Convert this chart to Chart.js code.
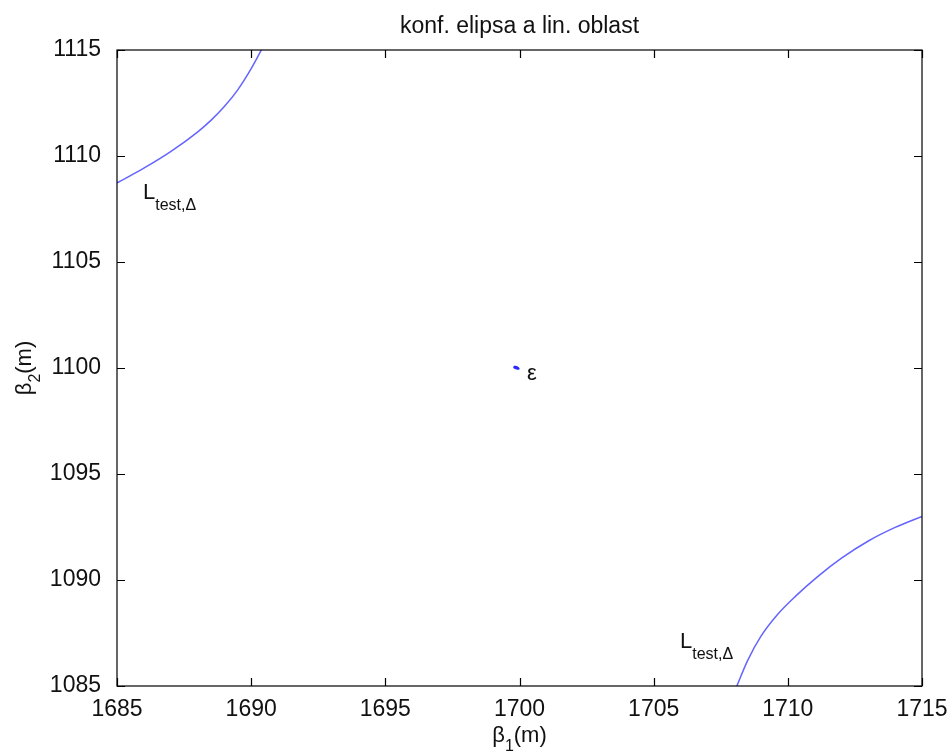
<!DOCTYPE html>
<html>
<head>
<meta charset="utf-8">
<title>konf. elipsa a lin. oblast</title>
<script src="https://cdn.jsdelivr.net/npm/chart.js@4.4.0/dist/chart.umd.min.js"></script>
<style>
  html, body { margin: 0; padding: 0; background: #fff; }
  #wrap { width: 952px; height: 754px; }
</style>
</head>
<body>
<div id="wrap"><canvas id="myChart" width="952" height="754"></canvas></div>
<script>
// upper-left branch of the linearity region
let lowerX = [1685.0, 1686.0, 1687.0, 1688.0, 1688.5, 1689.0, 1689.5, 1690.0, 1690.4];
let lowerY = [1108.73, 1109.43, 1110.21, 1111.13, 1111.68, 1112.33, 1113.12, 1114.12, 1115.05];

// lower-right branch of the linearity region
let upperX = [1708.1, 1708.5, 1709.0, 1709.6, 1710.3, 1711.1, 1712.0, 1713.0, 1714.0, 1715.0];
let upperY = [1085.0, 1086.2, 1087.35, 1088.35, 1089.25, 1090.15, 1091.03, 1091.84, 1092.48, 1093.0];

// confidence ellipse (very small, around the estimate)
let ellX = [1699.78, 1699.85, 1699.93, 1699.97, 1699.93, 1699.85, 1699.78];
let ellY = [1100.05, 1100.06, 1100.02, 1099.97, 1099.96, 1099.99, 1100.05];

let xTicks = [1685, 1690, 1695, 1700, 1705, 1710, 1715];
let yTicks = [1085, 1090, 1095, 1100, 1105, 1110, 1115];

// text labels: [x, y, main text, subscript]
let labelX = [1685.97, 1705.98, 1700.28];
let labelY = [1107.97, 1086.79, 1099.43];
let labelMain = ['L', 'L', 'ε'];
let labelSub = ['test,Δ', 'test,Δ', ''];

let titleText = 'konf. elipsa a lin. oblast';

function toPoints(xs, ys) {
  let pts = [];
  for (let i = 0; i < xs.length; i++) {
    pts.push({ x: xs[i], y: ys[i] });
  }
  return pts;
}

const FONT = '"Liberation Sans", Arial, sans-serif';

// draws text with a lowered, smaller subscript part
function drawSubText(ctx, x, y, main, sub, size) {
  ctx.font = size + 'px ' + FONT;
  ctx.fillText(main, x, y);
  let w = ctx.measureText(main).width;
  if (sub) {
    ctx.font = Math.round(size * 0.72) + 'px ' + FONT;
    ctx.fillText(sub, x + w, y + 11);
  }
}

const framePlugin = {
  id: 'frame',
  afterDraw(chart) {
    let ctx = chart.ctx;
    let a = chart.chartArea;
    let xs = chart.scales.x;
    let ys = chart.scales.y;
    ctx.save();

    // box round the plot
    ctx.strokeStyle = '#000';
    ctx.lineWidth = 1.2;
    ctx.strokeRect(a.left, a.top, a.right - a.left, a.bottom - a.top);

    // inward ticks on all four sides
    let len = 8;
    ctx.beginPath();
    xTicks.forEach(function (v) {
      let px = Math.round(xs.getPixelForValue(v)) + 0.5;
      ctx.moveTo(px, a.bottom); ctx.lineTo(px, a.bottom - len);
      ctx.moveTo(px, a.top); ctx.lineTo(px, a.top + len);
    });
    yTicks.forEach(function (v) {
      let py = Math.round(ys.getPixelForValue(v)) + 0.5;
      ctx.moveTo(a.left, py); ctx.lineTo(a.left + len, py);
      ctx.moveTo(a.right, py); ctx.lineTo(a.right - len, py);
    });
    ctx.stroke();

    ctx.fillStyle = '#111';
    ctx.textAlign = 'left';
    ctx.textBaseline = 'alphabetic';

    // labels inside the plot
    for (let i = 0; i < labelMain.length; i++) {
      drawSubText(ctx, xs.getPixelForValue(labelX[i]), ys.getPixelForValue(labelY[i]),
        labelMain[i], labelSub[i], 22);
    }

    // title
    ctx.font = '23px ' + FONT;
    ctx.textAlign = 'center';
    ctx.fillText(titleText, (a.left + a.right) / 2, 33);

    // x axis title
    ctx.textAlign = 'left';
    ctx.font = '22px ' + FONT;
    let cx = (a.left + a.right) / 2;
    let wB = ctx.measureText('β').width;
    let wM = ctx.measureText('(m)').width;
    ctx.font = '16px ' + FONT;
    let wS = ctx.measureText('1').width;
    let x0 = cx - (wB + wS + wM) / 2;
    ctx.font = '22px ' + FONT;
    ctx.fillText('β', x0, 742);
    ctx.font = '16px ' + FONT;
    ctx.fillText('1', x0 + wB, 751);
    ctx.font = '22px ' + FONT;
    ctx.fillText('(m)', x0 + wB + wS, 742);

    // y axis title, rotated
    ctx.translate(31, (a.top + a.bottom) / 2);
    ctx.rotate(-Math.PI / 2);
    x0 = -(wB + wS + wM) / 2;
    ctx.fillText('β', x0, 0);
    ctx.font = '16px ' + FONT;
    ctx.fillText('2', x0 + wB, 9);
    ctx.font = '22px ' + FONT;
    ctx.fillText('(m)', x0 + wB + wS, 0);

    ctx.restore();
  }
};

function plainLabel(value) {
  return String(value);
}

const ctx = document.getElementById('myChart').getContext('2d');
let myChart = new Chart(ctx, {
  type: 'line',
  data: {
    datasets: [
      {
        data: toPoints(lowerX, lowerY),
        borderColor: '#6464ff',
        borderWidth: 1.5,
        pointRadius: 0,
        cubicInterpolationMode: 'monotone',
        fill: false
      },
      {
        data: toPoints(upperX, upperY),
        borderColor: '#6464ff',
        borderWidth: 1.5,
        pointRadius: 0,
        cubicInterpolationMode: 'monotone',
        fill: false
      },
      {
        data: toPoints(ellX, ellY),
        borderColor: '#2a2aff',
        borderWidth: 2,
        pointRadius: 0,
        tension: 0.3,
        fill: false
      }
    ]
  },
  options: {
    responsive: false,
    animation: false,
    layout: { padding: { top: 50, right: 30, left: 0, bottom: 0 } },
    plugins: {
      legend: { display: false },
      tooltip: { enabled: false },
      title: { display: false }
    },
    scales: {
      x: {
        type: 'linear',
        min: 1685,
        max: 1715,
        afterBuildTicks: function (scale) {
          scale.ticks = xTicks.map(function (v) { return { value: v }; });
        },
        ticks: {
          font: { family: FONT, size: 23 },
          color: '#111',
          padding: 2,
          maxRotation: 0,
          autoSkip: false,
          callback: plainLabel
        },
        grid: { display: false },
        border: { display: false },
        afterFit: function (scale) { scale.height = 68; }
      },
      y: {
        type: 'linear',
        min: 1085,
        max: 1115,
        afterBuildTicks: function (scale) {
          scale.ticks = yTicks.map(function (v) { return { value: v }; });
        },
        ticks: {
          font: { family: FONT, size: 23 },
          color: '#111',
          padding: 8,
          autoSkip: false,
          callback: plainLabel
        },
        grid: { display: false },
        border: { display: false },
        afterFit: function (scale) { scale.width = 117; }
      }
    }
  },
  plugins: [framePlugin]
});
</script>
</body>
</html>
